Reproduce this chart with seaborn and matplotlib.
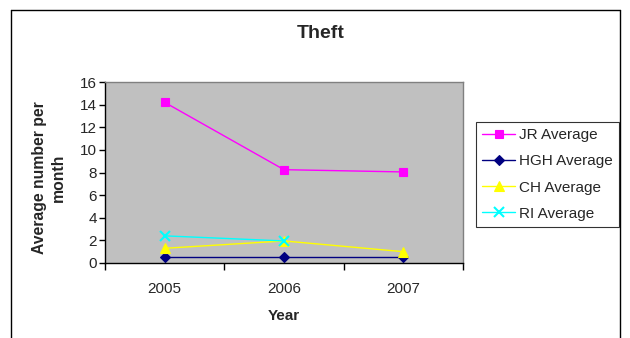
import matplotlib
matplotlib.use("Agg")
import matplotlib.pyplot as plt
import seaborn as sns
import numpy as np
import pandas as pd
from matplotlib.lines import Line2D

years = ["2005", "2006", "2007"]
jr_avg = [14.2, 8.25, 8.05]
hgh_avg = [0.5, 0.5, 0.5]
ch_avg = [1.3, 1.95, 1.0]
ri_avg = [2.4, 1.95, np.nan]

series_names = ["JR Average", "HGH Average", "CH Average", "RI Average"]
series_vals = [jr_avg, hgh_avg, ch_avg, ri_avg]
colors = ["#FF00FF", "#000080", "#FFFF00", "#00FFFF"]
markers = ["s", "D", "^", "x"]
msizes = [6, 5, 7, 7]

sns.set_theme(style="white")
plt.rcParams["font.family"] = ["Liberation Sans", "DejaVu Sans"]

fig = plt.figure(figsize=(6.3, 3.38), dpi=100)
fig.patch.set_facecolor("white")
ax = fig.add_axes([105/630, 1-263/338, (463-105)/630, (263-82)/338])
ax.set_facecolor("#C0C0C0")

rows = []
for name, vals in zip(series_names, series_vals):
    for i, (y, v) in enumerate(zip(years, vals)):
        rows.append({"series": name, "x": i, "value": v})
df = pd.DataFrame(rows)

handles = []
for name, c, m, ms in zip(series_names, colors, markers, msizes):
    sub = df[df["series"] == name].dropna()
    sns.lineplot(data=sub, x="x", y="value", ax=ax, color=c, marker=m,
                 markersize=ms, markeredgecolor=c, markerfacecolor=c,
                 markeredgewidth=1.5 if m == "x" else 0.8, linewidth=1.0,
                 legend=False)
    handles.append(Line2D([0], [0], color=c, marker=m, markersize=ms,
                          markeredgecolor=c, markerfacecolor=c,
                          markeredgewidth=1.5 if m == "x" else 0.8, linewidth=1.0))

ax.set_xlim(-0.5, 2.5)
ax.set_ylim(0, 16)
ax.set_yticks(np.arange(0, 17, 2))
ax.set_xticks([-0.5, 0.5, 1.5, 2.5])
ax.set_xticklabels([])
ax.set_xticks([0, 1, 2], minor=True)
ax.set_xticklabels(years, minor=True)
ax.tick_params(axis="x", which="major", direction="out", length=5, width=1, color="black", bottom=True)
ax.tick_params(axis="x", which="minor", length=0, pad=14, labelsize=11)
ax.tick_params(axis="y", direction="out", length=4, width=1, color="black", left=True, labelsize=11, pad=2)

for s in ["left", "bottom"]:
    ax.spines[s].set_color("black")
    ax.spines[s].set_linewidth(1.0)
for s in ["top", "right"]:
    ax.spines[s].set_color("#808080")
    ax.spines[s].set_linewidth(1.0)

ax.set_xlabel("Year", fontsize=11, fontweight="bold", labelpad=9)
ax.set_ylabel("Average number per\nmonth", fontsize=11.3, fontweight="bold",
              linespacing=1.3)
ax.yaxis.set_label_coords((66 - 105) / 358, (263 - 177.5) / 181)
fig.text(321/630, 1-34/338, "Theft", ha="center", va="center",
         fontsize=14, fontweight="bold")

leg = fig.legend(handles, series_names, loc="upper left",
                 bbox_to_anchor=(476/630, 1-122/338), frameon=True,
                 fancybox=False, edgecolor="black", fontsize=11,
                 handlelength=2.15, handletextpad=0.25, labelspacing=0.8,
                 borderpad=0.4, borderaxespad=0)
leg.get_frame().set_linewidth(0.8)

# outer chart border
fig.add_artist(Line2D([11/630, 11/630], [0, 1-10/338], transform=fig.transFigure, color="black", linewidth=1))
fig.add_artist(Line2D([11/630, 620/630], [1-10/338, 1-10/338], transform=fig.transFigure, color="black", linewidth=1))
fig.add_artist(Line2D([620/630, 620/630], [0, 1-10/338], transform=fig.transFigure, color="black", linewidth=1))

fig.savefig("out.png", dpi=100)
